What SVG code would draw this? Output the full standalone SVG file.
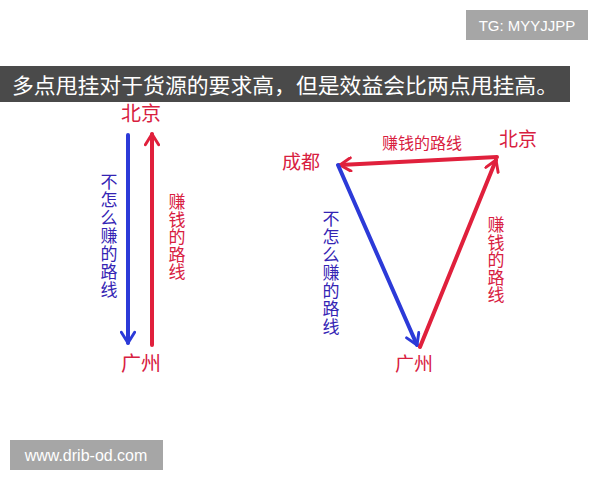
<svg xmlns="http://www.w3.org/2000/svg" width="600" height="480" viewBox="0 0 600 480">
<style>
.cjk{font-family:"Noto Sans CJK SC","Noto Sans",sans-serif}
.red{fill:#d8203f}
.blue{fill:#3424b4}
.rl{stroke:#e0203c;stroke-width:4;fill:none;stroke-linecap:round}
.bl{stroke:#2c3ad8;stroke-width:4;fill:none;stroke-linecap:round}
.city{font-size:20px}
.vert{font-size:17px;writing-mode:vertical-rl;text-anchor:middle;letter-spacing:1px}
.vert2{font-size:17px;writing-mode:vertical-rl;text-anchor:middle;letter-spacing:0.5px}
</style>
<defs>
<marker id="ar" viewBox="0 0 12 12" refX="10" refY="6" markerWidth="4" markerHeight="4" orient="auto" markerUnits="strokeWidth">
<path d="M2,1 L10,6 L2,11" fill="none" stroke="#e0203c" stroke-width="2.2" stroke-linejoin="round" stroke-linecap="round"/>
</marker>
<marker id="ab" viewBox="0 0 12 12" refX="10" refY="6" markerWidth="4" markerHeight="4" orient="auto" markerUnits="strokeWidth">
<path d="M2,1 L10,6 L2,11" fill="none" stroke="#2c3ad8" stroke-width="2.2" stroke-linejoin="round" stroke-linecap="round"/>
</marker>
</defs>
<rect width="600" height="480" fill="#ffffff"/>
<g id="tg">
<rect x="466" y="10" width="122" height="30" fill="#a6a6a6"/>
<text x="527" y="31" font-family="'Liberation Sans',Arial,sans-serif" font-size="15" fill="#ffffff" text-anchor="middle">TG: MYYJJPP</text>
</g>
<g id="banner">
<rect x="0" y="66" width="570" height="36" fill="#4a4a4a"/>
<text x="12" y="93" class="cjk" font-size="21" fill="#ffffff" textLength="546" lengthAdjust="spacingAndGlyphs">多点甩挂对于货源的要求高，但是效益会比两点甩挂高。</text>
</g>
<g id="connectors">
<line class="bl" x1="128" y1="135" x2="128" y2="343" marker-end="url(#ab)"/>
<line class="rl" x1="152" y1="345" x2="152" y2="134" marker-end="url(#ar)"/>
<line class="rl" x1="497" y1="157" x2="340" y2="165" marker-end="url(#ar)"/>
<line class="bl" x1="338" y1="165" x2="417" y2="345" marker-end="url(#ab)"/>
<line class="rl" x1="420" y1="347" x2="496" y2="160" marker-end="url(#ar)"/>
</g>
<g id="left-beijing"><text x="141" y="121" class="cjk city red" text-anchor="middle">北京</text></g>
<g id="left-guangzhou"><text x="141" y="371" class="cjk city red" text-anchor="middle">广州</text></g>
<g id="left-blue-label"><text x="109" y="236" class="cjk vert blue">不怎么赚的路线</text></g>
<g id="left-red-label"><text x="177" y="237" class="cjk vert2 red">赚钱的路线</text></g>
<g id="chengdu"><text x="301" y="169" class="cjk red" font-size="19" text-anchor="middle">成都</text></g>
<g id="right-beijing"><text x="518" y="146" class="cjk red" font-size="19" text-anchor="middle">北京</text></g>
<g id="right-guangzhou"><text x="414" y="371" class="cjk red" font-size="19" text-anchor="middle">广州</text></g>
<g id="top-red-label"><text x="422" y="149" class="cjk red" font-size="16" text-anchor="middle">赚钱的路线</text></g>
<g id="right-blue-label"><text x="331" y="273" class="cjk vert blue">不怎么赚的路线</text></g>
<g id="right-red-label"><text x="496" y="260" class="cjk vert2 red">赚钱的路线</text></g>
<g id="watermark">
<rect x="10" y="440" width="153" height="30" fill="#a6a6a6"/>
<text x="86" y="461" font-family="'Liberation Sans',Arial,sans-serif" font-size="16" fill="#ffffff" text-anchor="middle">www.drib-od.com</text>
</g>
</svg>
